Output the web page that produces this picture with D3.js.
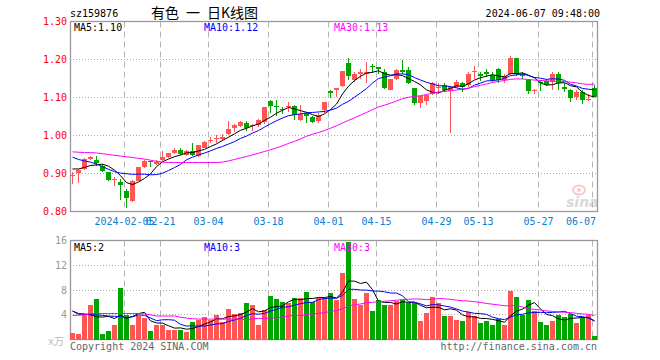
<!DOCTYPE html>
<html><head><meta charset="utf-8">
<script src="https://cdn.jsdelivr.net/npm/d3@7"></script>
<style>body{margin:0;background:#fff}svg{display:block}</style>
</head><body><svg id="c" width="660" height="360"></svg>
<script>
const dates = ["2024-01-23","2024-01-24","2024-01-25","2024-01-26","2024-01-29","2024-01-30","2024-01-31",
"2024-02-01","2024-02-02","2024-02-05","2024-02-06","2024-02-07","2024-02-08","2024-02-19","2024-02-20","2024-02-21","2024-02-22","2024-02-23","2024-02-26","2024-02-27","2024-02-28","2024-02-29",
"2024-03-01","2024-03-04","2024-03-05","2024-03-06","2024-03-07","2024-03-08","2024-03-11","2024-03-12","2024-03-13","2024-03-14","2024-03-15","2024-03-18","2024-03-19","2024-03-20","2024-03-21","2024-03-22","2024-03-25","2024-03-26","2024-03-27","2024-03-28","2024-03-29",
"2024-04-01","2024-04-02","2024-04-03","2024-04-08","2024-04-09","2024-04-10","2024-04-11","2024-04-12","2024-04-15","2024-04-16","2024-04-17","2024-04-18","2024-04-19","2024-04-22","2024-04-23","2024-04-24","2024-04-25","2024-04-26","2024-04-29","2024-04-30",
"2024-05-06","2024-05-07","2024-05-08","2024-05-09","2024-05-10","2024-05-13","2024-05-14","2024-05-15","2024-05-16","2024-05-17","2024-05-20","2024-05-21","2024-05-22","2024-05-23","2024-05-24","2024-05-27","2024-05-28","2024-05-29","2024-05-30","2024-05-31",
"2024-06-03","2024-06-04","2024-06-05","2024-06-06","2024-06-07"];
const open = [0.893,0.902,0.912,0.939,0.935,0.920,0.903,0.884,0.878,0.854,0.827,0.881,0.916,0.933,0.926,0.935,0.944,0.953,0.961,0.949,0.960,0.946,0.968,0.986,0.990,0.991,1.004,1.021,1.025,1.034,1.025,1.027,1.036,1.091,1.077,1.070,1.075,1.077,1.040,1.058,1.049,1.038,1.068,1.117,1.121,1.130,1.191,1.147,1.161,1.163,1.183,1.179,1.167,1.121,1.150,1.172,1.172,1.124,1.086,1.091,1.109,1.125,1.132,1.117,1.128,1.137,1.132,1.167,1.163,1.168,1.159,1.176,1.147,1.163,1.203,1.163,1.147,1.117,1.141,1.144,1.141,1.163,1.128,1.121,1.102,1.115,1.095,1.126];
const high = [0.905,0.911,0.940,0.946,0.947,0.925,0.905,0.892,0.886,0.858,0.882,0.918,0.935,0.934,0.935,0.959,0.955,0.966,0.966,0.962,0.979,0.976,0.986,0.996,1.002,1.003,1.038,1.029,1.038,1.038,1.031,1.043,1.075,1.093,1.093,1.076,1.088,1.079,1.079,1.062,1.051,1.058,1.089,1.121,1.125,1.170,1.203,1.168,1.176,1.194,1.189,1.180,1.174,1.150,1.175,1.200,1.180,1.126,1.104,1.110,1.140,1.137,1.137,1.130,1.145,1.140,1.166,1.182,1.166,1.175,1.166,1.178,1.163,1.209,1.204,1.166,1.150,1.122,1.145,1.150,1.167,1.166,1.137,1.122,1.121,1.121,1.109,1.134];
const low = [0.873,0.876,0.910,0.935,0.920,0.905,0.880,0.866,0.830,0.810,0.825,0.880,0.914,0.918,0.922,0.933,0.942,0.951,0.949,0.946,0.947,0.944,0.966,0.979,0.981,0.985,1.002,1.008,1.023,1.012,1.012,1.022,1.030,1.060,1.051,1.057,1.062,1.040,1.038,1.033,1.034,1.033,1.060,1.099,1.102,1.127,1.147,1.141,1.150,1.139,1.165,1.163,1.122,1.119,1.147,1.163,1.135,1.080,1.073,1.080,1.106,1.110,1.114,1.007,1.125,1.114,1.128,1.150,1.143,1.155,1.140,1.137,1.137,1.159,1.156,1.149,1.109,1.109,1.117,1.130,1.121,1.121,1.114,1.088,1.093,1.084,1.091,1.101];
const close = [0.897,0.909,0.937,0.943,0.927,0.907,0.882,0.886,0.870,0.836,0.880,0.917,0.932,0.930,0.931,0.944,0.953,0.963,0.951,0.960,0.949,0.974,0.983,0.989,0.994,0.996,1.016,1.027,1.035,1.021,1.028,1.040,1.074,1.077,1.074,1.067,1.078,1.053,1.056,1.051,1.036,1.054,1.088,1.112,1.124,1.169,1.156,1.163,1.167,1.166,1.180,1.176,1.124,1.148,1.172,1.168,1.137,1.086,1.103,1.106,1.137,1.128,1.121,1.128,1.141,1.128,1.163,1.170,1.157,1.163,1.147,1.147,1.156,1.203,1.161,1.157,1.117,1.119,1.138,1.132,1.163,1.139,1.123,1.099,1.115,1.093,1.097,1.102];
const volume = [1.05,0.89,4.13,5.64,6.61,0.89,1.43,2.40,8.34,4.02,2.40,3.75,3.48,1.43,2.30,2.30,1.59,1.59,1.59,1.27,2.83,3.21,3.59,3.21,3.91,2.83,4.99,4.13,4.29,5.91,5.64,2.40,4.83,7.10,6.61,6.07,5.91,6.72,6.72,7.69,6.07,6.72,6.72,7.53,6.45,10.77,15.8,6.61,5.64,7.53,4.67,6.45,5.64,5.64,6.29,6.45,5.91,5.91,3.05,4.29,6.88,5.91,3.86,3.86,3.21,3.05,4.40,3.75,2.67,3.05,2.40,3.37,2.40,7.91,6.88,4.02,6.45,4.56,2.83,2.40,3.05,3.91,3.59,4.13,2.67,3.48,3.91,0.62];
// moving-average values for days before a full window exists
const ma5Head = [0.912,0.912,0.916,0.921];
const ma10Head = [0.943,0.937,0.933,0.930,0.925,0.918,0.911,0.905,0.901];
const ma30Head = [0.957,0.956,0.955,0.955,0.954,0.952,0.950,0.948,0.946,0.944,0.942,0.940,0.938,0.935,0.932,0.930,0.929,0.929,0.929,0.929,0.929,0.929,0.929,0.929,0.929,0.930,0.933,0.937,0.941];
const vma5Head = [4.6,4.1,4.1,4.0];
const vma10Head = [4.6,4.2,4.1,4.0,4.0,3.9,3.8,3.75,3.7];
const vma30Head = [3.9,3.9,4.0,4.2,4.2,4.2,4.2,4.2,4.2,4.2,4.2,4.2,4.15,4.0,3.8,3.8,3.8,3.8,3.6,3.45,3.35,3.3,3.3,3.3,3.3,3.3,3.3,3.3,3.3];
const tickDates = ["2024-02-05","2024-02-21","2024-03-04","2024-03-18","2024-04-01","2024-04-15","2024-04-29","2024-05-13","2024-05-27","2024-06-07"];
const tickLabels = ["2024-02-05","02-21","03-04","03-18","04-01","04-15","04-29","05-13","05-27","06-07"];
const priceTicks = [0.80,0.90,1.00,1.10,1.20,1.30];
const volTicks = [4,8,12,16];
const titleParts = ["有色","一","日K线图"];
const maLabels = ["MA5:1.10","MA10:1.12","MA30:1.13"];
const vmaLabels = ["MA5:2","MA10:3","MA30:3"];

const UP="#ff5555", DN="#00a600", MAC=["#000","#0000ff","#ff00ff"];
const MONO="'DejaVu Sans Mono', monospace";
const svg=d3.select("#c");
const x=d3.scaleBand().domain(dates).range([70,598]);
const y=d3.scaleLinear().domain([0.80,1.30]).range([211.5,21.5]);
const yv=d3.scaleLinear().domain([0,16]).range([339.5,240.5]);

function ma(vals,n,head){return vals.map((v,i)=> i<n-1 ? head[i] : d3.mean(vals.slice(i-n+1,i+1)));}

// titles
svg.append("text").attr("x",70).attr("y",17).attr("font-family",MONO).attr("font-size",10).text("sz159876");
const tx=[151,186,207];
titleParts.forEach((t,k)=>svg.append("text").attr("x",tx[k]).attr("y",18).attr("font-family","'Noto Sans CJK SC'").attr("font-size",14).text(t));
svg.append("text").attr("x",600).attr("y",17).attr("text-anchor","end").attr("font-family",MONO).attr("font-size",10).text("2024-06-07 09:48:00");

// watermark
const wm=svg.append("g").attr("opacity",0.55);
wm.append("ellipse").attr("cx",579).attr("cy",190).attr("rx",6).attr("ry",4.5).attr("fill","none").attr("stroke","#f2a0a0").attr("stroke-width",2);
wm.append("circle").attr("cx",579).attr("cy",190).attr("r",2).attr("fill","#f2a0a0");
wm.append("text").attr("x",566).attr("y",207).attr("font-family","'DejaVu Sans'").attr("font-style","italic").attr("font-weight","bold").attr("font-size",14).attr("fill","#bbb").text("sina");

// grids main
const gm=svg.append("g");
gm.selectAll("line.h").data(priceTicks.slice(1,-1)).join("line")
  .attr("x1",70).attr("x2",598).attr("y1",d=>Math.round(y(d)-0.5)+0.5).attr("y2",d=>Math.round(y(d)-0.5)+0.5)
  .attr("stroke","#aaa").attr("stroke-dasharray","1,2");
gm.selectAll("line.v").data(tickDates).join("line")
  .attr("x1",d=>x(d)+0.5).attr("x2",d=>x(d)+0.5).attr("y1",21.5).attr("y2",211.5)
  .attr("stroke","#b4b4b4").attr("stroke-dasharray","6,4");
// grids vol
gm.selectAll("line.vh").data(volTicks.slice(0,-1)).join("line")
  .attr("x1",70).attr("x2",598).attr("y1",d=>Math.round(yv(d)-0.5)+0.5).attr("y2",d=>Math.round(yv(d)-0.5)+0.5)
  .attr("stroke","#aaa").attr("stroke-dasharray","1,2");
gm.selectAll("line.vv").data(tickDates).join("line")
  .attr("x1",d=>x(d)+0.5).attr("x2",d=>x(d)+0.5).attr("y1",240.5).attr("y2",339.5)
  .attr("stroke","#b4b4b4").attr("stroke-dasharray","6,4");

// borders
svg.append("rect").attr("x",70.5).attr("y",21.5).attr("width",527).attr("height",190).attr("fill","none").attr("stroke","#999").attr("stroke-width",1.3);
svg.append("rect").attr("x",70.5).attr("y",240.5).attr("width",527).attr("height",99).attr("fill","none").attr("stroke","#999").attr("stroke-width",1.3);

// y labels
svg.selectAll("text.py").data(priceTicks).join("text")
  .attr("x",67).attr("y",d=>y(d)+3.6).attr("text-anchor","end").attr("font-family",MONO).attr("font-size",10).attr("fill","#f00")
  .text(d=>d.toFixed(2));
svg.selectAll("text.vy").data(volTicks).join("text")
  .attr("x",67).attr("y",d=>yv(d)+3.6).attr("text-anchor","end").attr("font-family",MONO).attr("font-size",10).attr("fill","#999")
  .text(d=>d);
svg.append("text").attr("x",48).attr("y",345).attr("font-family",MONO+",'Noto Sans CJK SC'").attr("font-size",10).attr("fill","#bbb").text("x万");

// x labels (clamped so the last one stays inside the frame)
svg.selectAll("text.xl").data(tickDates).join("text")
  .attr("x",(d,i)=>{const w=tickLabels[i].length*6.02; return Math.min(x(d)+0.5, 596-w/2);})
  .attr("y",225).attr("text-anchor","middle").attr("font-family",MONO).attr("font-size",10).attr("fill","#0a80d0")
  .text((d,i)=>tickLabels[i]);

// candles
const cg=svg.append("g").attr("shape-rendering","crispEdges");
dates.forEach((d,i)=>{
  const col = close[i]>=open[i]?UP:DN;
  const xc = x(d)+2.5;
  cg.append("line").attr("x1",xc).attr("x2",xc).attr("y1",y(high[i])).attr("y2",y(low[i])).attr("stroke",col);
  const yt=y(Math.max(open[i],close[i])), yb=y(Math.min(open[i],close[i]));
  cg.append("rect").attr("x",x(d)).attr("width",5).attr("y",yt).attr("height",Math.max(1,yb-yt)).attr("fill",col);
  cg.append("rect").attr("x",x(d)).attr("width",5).attr("y",yv(volume[i])).attr("height",yv(0)-yv(volume[i])).attr("fill",col);
});

// MA lines
const lp=d3.line().x((v,i)=>x(dates[i])+2.5).y(v=>y(v));
const lv=d3.line().x((v,i)=>x(dates[i])+2.5).y(v=>yv(v));
[[5,ma5Head],[10,ma10Head],[30,ma30Head]].forEach(([n,h],k)=>{
  svg.append("path").attr("d",lp(ma(close,n,h))).attr("fill","none").attr("stroke",MAC[k]).attr("stroke-width",1);
});
[[5,vma5Head],[10,vma10Head],[30,vma30Head]].forEach(([n,h],k)=>{
  svg.append("path").attr("d",lv(ma(volume,n,h))).attr("fill","none").attr("stroke",MAC[k]).attr("stroke-width",1);
});

// MA labels
const lx=[74,204,334];
maLabels.forEach((t,k)=>svg.append("text").attr("x",lx[k]).attr("y",31).attr("font-family",MONO).attr("font-size",10).attr("fill",MAC[k]).text(t));
vmaLabels.forEach((t,k)=>svg.append("text").attr("x",lx[k]).attr("y",251).attr("font-family",MONO).attr("font-size",10).attr("fill",MAC[k]).text(t));

// footer
svg.append("text").attr("x",70).attr("y",350).attr("font-family",MONO).attr("font-size",10).attr("fill","#666").text("Copyright 2024 SINA.COM");
svg.append("text").attr("x",597).attr("y",350).attr("text-anchor","end").attr("font-family",MONO).attr("font-size",10).attr("fill","#666").text("http://finance.sina.com.cn");
</script></body></html>
